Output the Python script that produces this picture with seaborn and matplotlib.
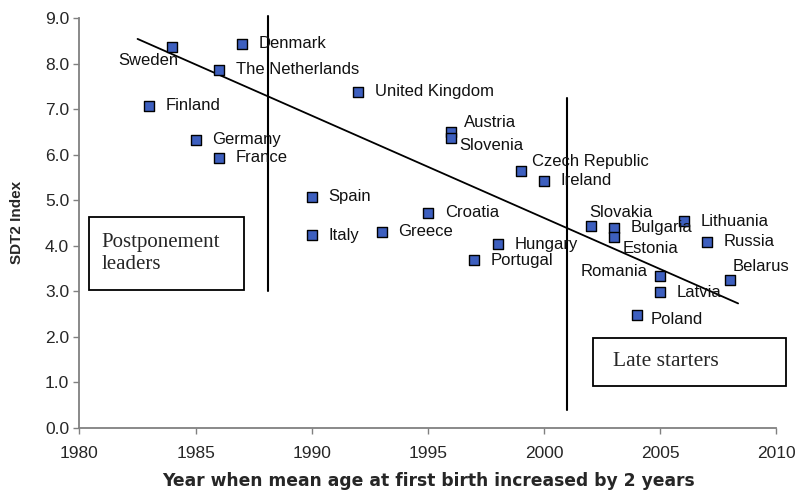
"""
SDT2 index vs. year when mean age at first birth increased by 2 years
"""

import pandas as pd
import matplotlib
matplotlib.use("Agg")
import matplotlib.pyplot as plt
import seaborn as sns

# data
countries = ["Sweden", "Denmark", "The Netherlands", "Finland", "Germany", "France",
             "United Kingdom", "Austria", "Slovenia", "Czech Republic", "Ireland",
             "Spain", "Italy", "Croatia", "Greece", "Hungary", "Portugal",
             "Slovakia", "Bulgaria", "Estonia", "Lithuania", "Russia",
             "Romania", "Belarus", "Latvia", "Poland"]
years = [1984, 1987, 1986, 1983, 1985, 1986,
         1992, 1996, 1996, 1999, 2000,
         1990, 1990, 1995, 1993, 1998, 1997,
         2002, 2003, 2003, 2006, 2007,
         2005, 2008, 2005, 2004]
sdt2 = [8.37, 8.43, 7.86, 7.07, 6.32, 5.93,
        7.38, 6.50, 6.36, 5.63, 5.42,
        5.07, 4.23, 4.72, 4.30, 4.03, 3.68,
        4.43, 4.39, 4.19, 4.54, 4.08,
        3.33, 3.24, 2.98, 2.47]

# trend line as drawn in the chart
trend_years = [1982.5, 2008.35]
trend_values = [8.54, 2.73]

x_ticks = [1980, 1985, 1990, 1995, 2000, 2005, 2010]
y_ticks = [0.0, 1.0, 2.0, 3.0, 4.0, 5.0, 6.0, 7.0, 8.0, 9.0]

# label offsets in points (dx, dy, ha)
label_pos = {
    "Sweden": (4, -10, "right"),
    "Austria": (9, 7, "left"),
    "Slovenia": (6, -5, "left"),
    "Czech Republic": (8, 7, "left"),
    "Slovakia": (-1, 10, "left"),
    "Estonia": (6, -8, "left"),
    "Romania": (-9, 3, "right"),
    "Belarus": (2, 10, "left"),
    "Poland": (10, -3, "left"),
}

df = pd.DataFrame({"country": countries, "year": years, "sdt2": sdt2})
trend = pd.DataFrame({"year": trend_years, "sdt2": trend_values})

sns.set_style("ticks")
plt.rcParams["font.family"] = ["Liberation Sans", "DejaVu Sans"]

fig = plt.figure(figsize=(7.98, 4.94), dpi=100)
ax = fig.add_axes([0.0996, 0.1342, 0.8734, 0.8294])

sns.scatterplot(data=df, x="year", y="sdt2", ax=ax, marker="s", s=42,
                color="#3D5FBF", edgecolor="black", linewidth=1.0, zorder=3)

# trend line
sns.lineplot(data=trend, x="year", y="sdt2", ax=ax, color="black", lw=1.3, zorder=2)

# dividing lines
ax.plot([1988.1, 1988.1], [3.0, 9.05], color="black", lw=1.5, clip_on=False)
ax.plot([2001.0, 2001.0], [0.38, 7.25], color="black", lw=1.5)

for c, xv, yv in zip(countries, years, sdt2):
    dx, dy, ha = label_pos.get(c, (12, 0, "left"))
    ax.annotate(c, (xv, yv), xytext=(dx, dy), textcoords="offset points",
                ha=ha, va="center", fontsize=12, color="#111111")

# boxes
ax.add_patch(plt.Rectangle((1980.4, 3.03), 6.7, 1.6, fill=False, ec="black",
                           lw=1.3, clip_on=False))
ax.text(1980.95, 3.83, "Postponement\nleaders", family="Liberation Serif",
        fontsize=15, va="center", ha="left", linespacing=1.25)
ax.add_patch(plt.Rectangle((2002.1, 0.92), 8.3, 1.05, fill=False, ec="black",
                           lw=1.3, clip_on=False))
ax.text(2002.97, 1.45, "Late starters", family="Liberation Serif",
        fontsize=15.5, va="center", ha="left")

ax.set_xlim(1980, 2010)
ax.set_ylim(0, 9)
ax.set_xticks(x_ticks)
ax.set_yticks(y_ticks)
ax.set_yticklabels([f"{v:.1f}" for v in y_ticks])
ax.tick_params(labelsize=12.5, length=4, color="#808080", width=1)
ax.tick_params(axis="x", pad=9)
for sp in ["top", "right"]:
    ax.spines[sp].set_visible(False)
for sp in ["left", "bottom"]:
    ax.spines[sp].set_color("#808080")
    ax.spines[sp].set_linewidth(1.3)

ax.set_xlabel("Year when mean age at first birth increased by 2 years",
              fontsize=12.3, fontweight="bold", family=["DejaVu Sans"], labelpad=8)
ax.set_ylabel("SDT2 Index", fontsize=11, fontweight="bold", labelpad=15)

fig.savefig("out.png", dpi=100)
